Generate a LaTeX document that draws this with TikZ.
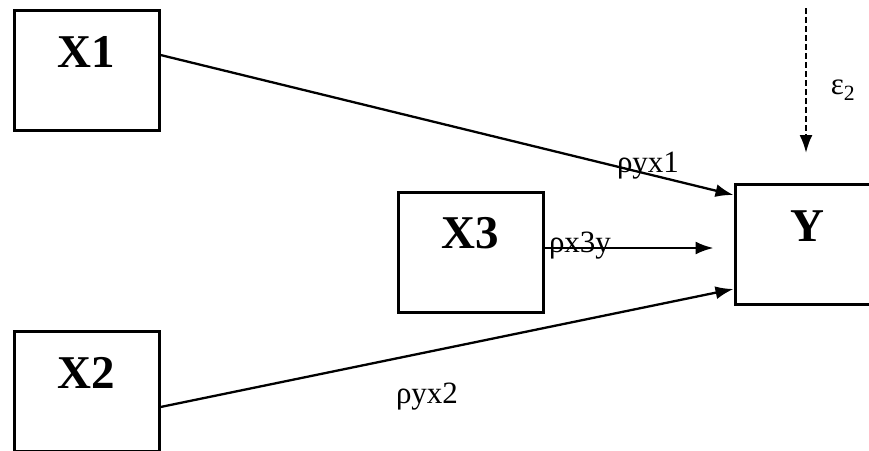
\documentclass[tikz,border=0pt]{standalone}
\usepackage{fontspec}
\setmainfont{Liberation Serif}
\usetikzlibrary{arrows.meta}

\begin{document}
\begin{tikzpicture}[x=1pt,y=-1pt,
  box/.style={draw, line width=3pt, minimum width=145pt, minimum height=120pt, inner sep=0pt},
  boxname/.style={anchor=center, yshift=-43pt, inner sep=0pt, font=\fontsize{47}{49}\selectfont\bfseries},
  lab/.style={inner sep=0pt, font=\fontsize{31}{33}\selectfont},
  path/.style={line width=2.3pt, -{Latex[length=18pt,width=13pt]}}]

% --- Frame ---
\useasboundingbox (0,0) rectangle (869,450);

% --- Boxes ---
\node[box, label={[boxname]north:X1}] (X1) at (86.5,70) {};
\node[box, label={[boxname]north:X2}] (X2) at (86.5,391) {};
\node[box, label={[boxname]north:X3}] (X3) at (470.5,252) {};
\node[box, label={[boxname]north:Y}] (Y) at (807.5,244.5) {};

% --- Paths to Y ---
\draw[path] ([yshift=15pt]X1.east) -- ([yshift=-12pt]Y.north west);
\draw[path, shorten >=20pt] ([yshift=4pt]X3.east) -- ([yshift=4pt]X3.east -| Y.west);
\draw[path] ([yshift=-16pt]X2.east) -- ([yshift=17pt]Y.south west);

% Error term
\coordinate (etop) at (806,8);
\draw[path, dash pattern=on 6pt off 3pt, shorten >=30pt] (etop) -- (etop |- Y.north);

% --- Labels ---
\node[lab] (ryx1) at (648,166) {ρyx1};
\node[lab] (rx3y) at (580,246) {ρx3y};
\node[lab] (ryx2) at (427,397) {ρyx2};
\node[lab] (eps) at (843,90) {ε\textsubscript{2}};

\end{tikzpicture}
\end{document}
